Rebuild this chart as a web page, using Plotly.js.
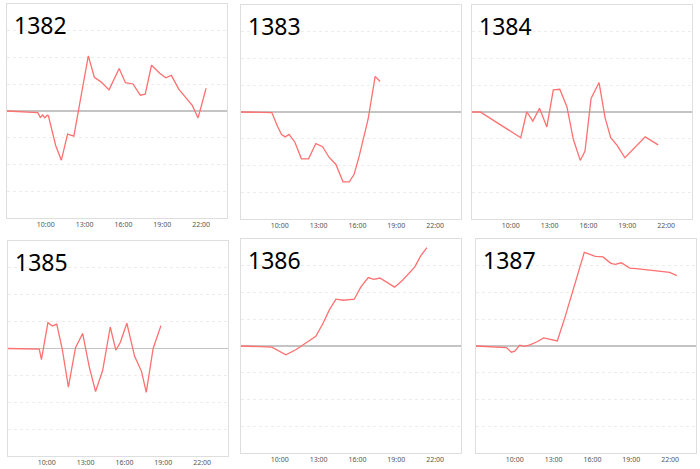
<!DOCTYPE html>
<html>
<head>
<meta charset="utf-8">
<script src="https://cdn.plot.ly/plotly-3.0.1.min.js"></script>
<style>
  html, body { margin: 0; padding: 0; background: #fff; }
  #chart { width: 700px; height: 469px; }
</style>
</head>
<body>
<div id="chart"></div>
<script>
// nomor seri tiap panel
var names = ['1382', '1383', '1384', '1385', '1386', '1387'];
var tickLabels = ['10:00', '13:00', '16:00', '19:00', '22:00'];

// data tiap panel (jam, nilai)
var t1382 = ['07:00','09:23','09:34','09:45','09:55','10:06','10:12','10:46','11:12','11:41','12:10','13:17','13:45','14:17','14:53','15:40','16:09','16:44','17:18','17:41','18:10','18:48','19:16','19:42','20:17','21:19','21:46','22:23'];
var v1382 = [0,-0.06,-0.24,-0.15,-0.25,-0.16,-0.18,-1.3,-1.84,-0.86,-0.94,2.06,1.26,1.08,0.79,1.59,1.06,1.01,0.59,0.63,1.71,1.41,1.24,1.33,0.81,0.21,-0.26,0.85];

var t1383 = ['07:00','09:23','09:49','10:08','10:25','10:43','11:10','11:40','12:13','12:47','13:18','13:49','14:20','14:53','15:22','15:44','16:08','16:49','17:22','17:45'];
var v1383 = [0,-0.02,-0.53,-0.84,-0.93,-0.84,-1.13,-1.75,-1.75,-1.18,-1.3,-1.7,-1.96,-2.61,-2.61,-2.34,-1.65,-0.28,1.33,1.14];

var t1384 = ['07:00','07:38','10:46','11:14','11:42','12:13','12:47','13:17','13:47','14:20','14:50','15:22','15:44','16:12','16:49','17:17','17:43','18:12','18:49','20:23','21:23'];
var v1384 = [0,0,-0.96,0.01,-0.34,0.14,-0.56,0.83,0.85,0.2,-1.03,-1.81,-1.46,0.51,1.1,-0.21,-0.96,-1.24,-1.71,-0.93,-1.23];

var t1385 = ['07:00','09:25','09:35','10:05','10:26','10:46','11:11','11:40','12:13','12:46','13:17','13:46','14:19','14:54','15:20','15:41','16:11','16:47','17:19','17:41','18:13','18:49'];
var v1385 = [0,-0.02,-0.41,0.96,0.84,0.91,0,-1.44,0.03,0.56,-0.69,-1.6,-0.81,0.8,-0.06,0.23,0.94,-0.29,-0.85,-1.63,0,0.85];

var t1386 = ['07:00','09:23','10:28','11:14','11:45','12:47','13:21','13:49','14:20','14:54','15:45','16:16','16:50','17:16','17:44','18:19','18:52','19:29','19:57','20:25','20:54','21:22'];
var v1386 = [0,-0.04,-0.33,-0.14,0.03,0.36,0.86,1.34,1.75,1.71,1.75,2.21,2.56,2.49,2.54,2.36,2.2,2.46,2.71,2.95,3.38,3.68];

var t1387 = ['07:00','09:21','09:44','10:00','10:23','10:47','11:10','11:41','12:14','13:17','13:53','15:22','15:42','16:13','16:49','17:25','17:46','18:14','18:52','19:23','21:58','22:31'];
var v1387 = [0,-0.06,-0.23,-0.19,0.03,-0.01,0.04,0.15,0.3,0.19,1.09,3.5,3.44,3.35,3.33,3.09,3.05,3.11,2.91,2.89,2.75,2.63];

var times = [t1382, t1383, t1384, t1385, t1386, t1387];
var values = [v1382, v1383, v1384, v1385, v1386, v1387];

var day = '2024-01-01 ';
var W = 700, H = 469;
// kotak panel dalam piksel: [kiri, atas, kanan, bawah]
var boxes = [
  [7, 4, 227, 218], [241, 5, 461, 219], [472, 5, 692, 219],
  [8, 241, 228, 456], [241, 239, 461, 453], [476, 239, 696, 453]
];

var data = [];
var layout = {
  width: W, height: H,
  margin: {l: 0, r: 0, t: 0, b: 0},
  showlegend: false,
  plot_bgcolor: '#fff',
  paper_bgcolor: '#fff',
  annotations: []
};

for (var i = 0; i < names.length; i++) {
  var sfx = i === 0 ? '' : String(i + 1);
  var b = boxes[i];
  data.push({
    x: times[i].map(function (t) { return day + t; }),
    y: values[i],
    type: 'scatter',
    mode: 'lines',
    line: {color: '#ff7070', width: 1.3},
    xaxis: 'x' + sfx,
    yaxis: 'y' + sfx,
    hoverinfo: 'skip'
  });
  layout['xaxis' + sfx] = {
    type: 'date',
    domain: [b[0] / W, b[2] / W],
    anchor: 'y' + sfx,
    range: [day + '07:00', '2024-01-02 00:00'],
    tickvals: tickLabels.map(function (t) { return day + t; }),
    ticktext: tickLabels,
    ticks: '',
    showgrid: false,
    zeroline: false,
    showline: true,
    mirror: true,
    linecolor: '#dedede',
    linewidth: 1,
    tickfont: {family: 'Noto Sans', size: 7, color: '#555'},
    fixedrange: true
  };
  layout['yaxis' + sfx] = {
    domain: [1 - b[3] / H, 1 - b[1] / H],
    anchor: 'x' + sfx,
    range: [-4, 4],
    dtick: 1,
    showticklabels: false,
    ticks: '',
    showgrid: true,
    gridcolor: '#ececec',
    griddash: 'dot',
    zeroline: true,
    zerolinecolor: '#c4c4c4',
    zerolinewidth: 1.5,
    showline: true,
    mirror: true,
    linecolor: '#dedede',
    linewidth: 1,
    fixedrange: true
  };
  layout.annotations.push({
    text: names[i],
    xref: 'paper', yref: 'paper',
    x: (b[0] + 5) / W,
    y: 1 - (b[1] + 3) / H,
    xanchor: 'left', yanchor: 'top',
    showarrow: false,
    font: {family: 'Noto Sans', size: 23, color: '#000'}
  });
}

Plotly.newPlot('chart', data, layout, {displayModeBar: false, staticPlot: true});
</script>
</body>
</html>
